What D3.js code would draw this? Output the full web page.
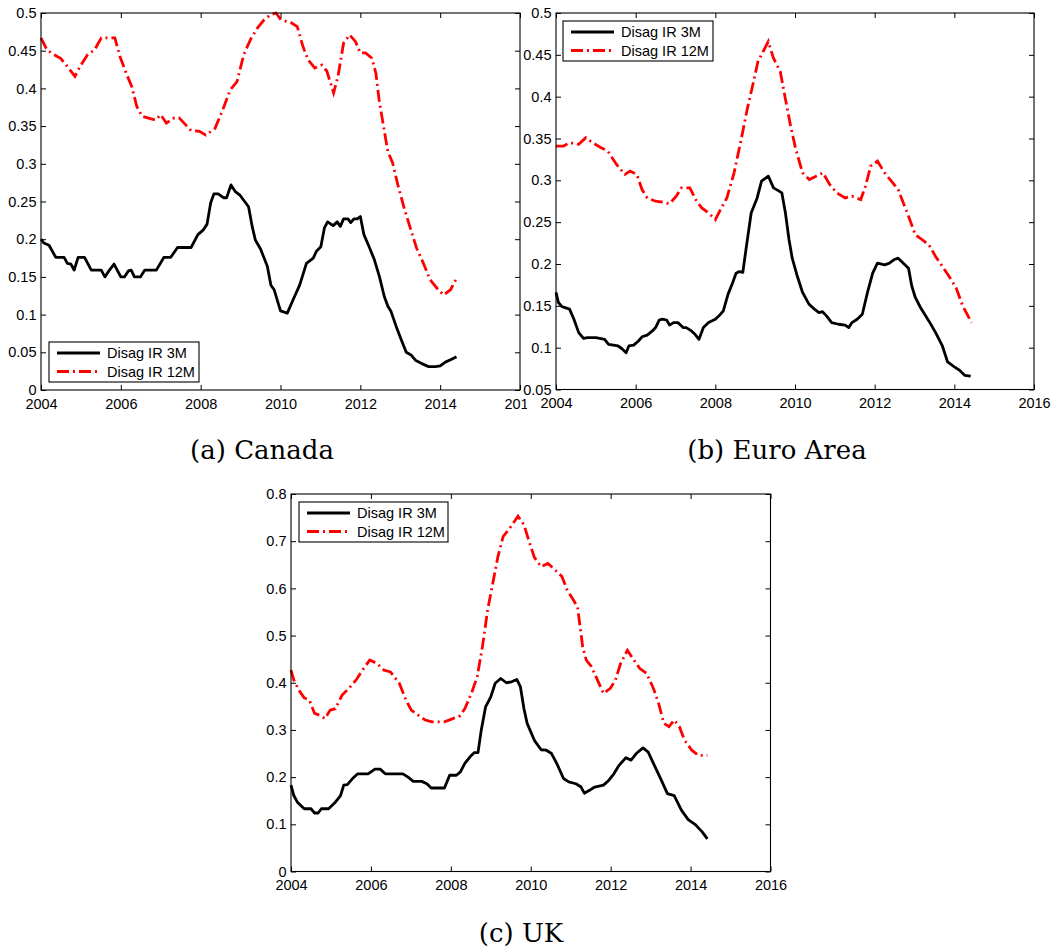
<!DOCTYPE html>
<html><head><meta charset="utf-8">
<script src="https://cdn.jsdelivr.net/npm/d3@7"></script>
<style>
html,body{margin:0;padding:0;background:#fff;}
svg{display:block;}
</style></head>
<body>
<svg id="chart" width="1055" height="948"></svg>
<script>
// ---- Data ----
const yearTicks = [2004, 2006, 2008, 2010, 2012, 2014, 2016];
const seriesNames = ["Disag IR 3M", "Disag IR 12M"];
const captions = ["(a) Canada", "(b) Euro Area", "(c) UK"];

const canadaTicks = [0,0.05,0.1,0.15,0.2,0.25,0.3,0.35,0.4,0.45,0.5];
const euroTicks = [0.05,0.1,0.15,0.2,0.25,0.3,0.35,0.4,0.45,0.5];
const ukTicks = [0,0.1,0.2,0.3,0.4,0.5,0.6,0.7,0.8];

const canada3M = [[2004.0,0.200],[2004.07,0.195],[2004.2,0.192],[2004.37,0.176],[2004.58,0.176],[2004.66,0.168],[2004.75,0.167],[2004.83,0.159],[2004.93,0.176],[2005.09,0.176],[2005.26,0.159],[2005.51,0.159],[2005.6,0.150],[2005.7,0.158],[2005.83,0.167],[2006.0,0.150],[2006.09,0.150],[2006.19,0.158],[2006.26,0.159],[2006.34,0.150],[2006.49,0.150],[2006.6,0.159],[2006.89,0.159],[2007.08,0.176],[2007.25,0.176],[2007.42,0.189],[2007.76,0.189],[2007.93,0.206],[2008.06,0.212],[2008.16,0.220],[2008.25,0.248],[2008.33,0.260],[2008.44,0.260],[2008.57,0.255],[2008.65,0.255],[2008.76,0.272],[2008.87,0.263],[2008.99,0.258],[2009.2,0.243],[2009.29,0.217],[2009.37,0.199],[2009.5,0.187],[2009.67,0.164],[2009.76,0.139],[2009.84,0.133],[2010.0,0.105],[2010.17,0.102],[2010.31,0.119],[2010.48,0.139],[2010.65,0.168],[2010.82,0.175],[2010.9,0.184],[2011.01,0.190],[2011.1,0.215],[2011.18,0.223],[2011.32,0.218],[2011.42,0.223],[2011.5,0.217],[2011.58,0.227],[2011.69,0.227],[2011.76,0.222],[2011.84,0.227],[2011.92,0.227],[2012.0,0.230],[2012.09,0.206],[2012.22,0.190],[2012.35,0.173],[2012.48,0.150],[2012.6,0.124],[2012.69,0.111],[2012.77,0.104],[2012.9,0.084],[2013.03,0.066],[2013.15,0.050],[2013.28,0.046],[2013.39,0.039],[2013.54,0.035],[2013.71,0.031],[2013.88,0.031],[2014.0,0.032],[2014.13,0.037],[2014.26,0.040],[2014.41,0.044]];
const canada12M = [[2004.0,0.467],[2004.15,0.451],[2004.32,0.445],[2004.49,0.440],[2004.66,0.429],[2004.85,0.416],[2005.0,0.431],[2005.17,0.445],[2005.34,0.451],[2005.51,0.467],[2005.85,0.467],[2005.98,0.442],[2006.15,0.418],[2006.27,0.403],[2006.4,0.376],[2006.53,0.363],[2006.87,0.358],[2007.0,0.365],[2007.14,0.354],[2007.34,0.361],[2007.46,0.361],[2007.62,0.352],[2007.76,0.344],[2007.97,0.343],[2008.13,0.338],[2008.36,0.347],[2008.57,0.374],[2008.74,0.398],[2008.91,0.409],[2009.08,0.445],[2009.25,0.465],[2009.42,0.480],[2009.59,0.491],[2009.76,0.498],[2009.89,0.500],[2010.01,0.491],[2010.14,0.489],[2010.27,0.487],[2010.42,0.482],[2010.56,0.456],[2010.69,0.438],[2010.86,0.427],[2011.03,0.431],[2011.16,0.423],[2011.33,0.394],[2011.44,0.416],[2011.58,0.460],[2011.73,0.471],[2011.88,0.462],[2012.0,0.447],[2012.13,0.447],[2012.29,0.440],[2012.39,0.420],[2012.47,0.385],[2012.58,0.350],[2012.69,0.316],[2012.81,0.301],[2012.94,0.272],[2013.11,0.239],[2013.28,0.210],[2013.41,0.188],[2013.58,0.168],[2013.75,0.146],[2013.92,0.135],[2014.09,0.126],[2014.26,0.133],[2014.43,0.150]];

const euro3M = [[2004.0,0.166],[2004.06,0.154],[2004.15,0.149],[2004.34,0.146],[2004.45,0.134],[2004.57,0.118],[2004.69,0.111],[2004.79,0.112],[2005.0,0.112],[2005.22,0.110],[2005.32,0.104],[2005.56,0.102],[2005.65,0.099],[2005.76,0.094],[2005.83,0.102],[2005.95,0.103],[2006.07,0.108],[2006.16,0.113],[2006.29,0.115],[2006.42,0.120],[2006.5,0.124],[2006.59,0.133],[2006.67,0.134],[2006.78,0.133],[2006.85,0.127],[2006.95,0.130],[2007.06,0.130],[2007.19,0.124],[2007.27,0.124],[2007.4,0.120],[2007.49,0.116],[2007.59,0.110],[2007.7,0.124],[2007.83,0.130],[2008.0,0.134],[2008.13,0.140],[2008.2,0.144],[2008.32,0.164],[2008.43,0.177],[2008.52,0.189],[2008.6,0.191],[2008.69,0.190],[2008.78,0.221],[2008.9,0.261],[2009.05,0.279],[2009.16,0.299],[2009.33,0.305],[2009.46,0.291],[2009.57,0.288],[2009.67,0.285],[2009.76,0.261],[2009.85,0.229],[2009.93,0.207],[2010.06,0.185],[2010.19,0.166],[2010.35,0.152],[2010.49,0.146],[2010.6,0.142],[2010.69,0.143],[2010.79,0.138],[2010.92,0.130],[2011.09,0.128],[2011.26,0.127],[2011.35,0.124],[2011.43,0.130],[2011.56,0.134],[2011.69,0.140],[2011.82,0.166],[2011.95,0.189],[2012.07,0.201],[2012.25,0.199],[2012.37,0.201],[2012.48,0.205],[2012.59,0.207],[2012.72,0.201],[2012.85,0.195],[2012.93,0.174],[2013.02,0.160],[2013.15,0.148],[2013.36,0.132],[2013.53,0.118],[2013.7,0.102],[2013.83,0.083],[2014.0,0.077],[2014.13,0.073],[2014.26,0.067],[2014.41,0.066]];
const euro12M = [[2004.0,0.341],[2004.19,0.341],[2004.34,0.345],[2004.57,0.343],[2004.75,0.351],[2004.92,0.345],[2005.13,0.339],[2005.3,0.335],[2005.52,0.319],[2005.73,0.307],[2005.86,0.311],[2006.03,0.307],[2006.16,0.289],[2006.29,0.279],[2006.5,0.275],[2006.67,0.274],[2006.85,0.272],[2007.02,0.281],[2007.15,0.291],[2007.36,0.291],[2007.53,0.275],[2007.66,0.267],[2007.83,0.261],[2008.0,0.253],[2008.13,0.265],[2008.29,0.279],[2008.47,0.309],[2008.65,0.349],[2008.8,0.385],[2008.95,0.416],[2009.07,0.442],[2009.2,0.454],[2009.33,0.466],[2009.46,0.446],[2009.63,0.430],[2009.76,0.397],[2009.89,0.365],[2010.02,0.337],[2010.19,0.309],[2010.36,0.301],[2010.53,0.305],[2010.7,0.309],[2010.87,0.295],[2011.05,0.285],[2011.26,0.279],[2011.43,0.281],[2011.65,0.277],[2011.77,0.293],[2011.9,0.317],[2012.07,0.323],[2012.25,0.309],[2012.42,0.299],[2012.59,0.289],[2012.72,0.273],[2012.85,0.257],[2013.02,0.235],[2013.19,0.229],[2013.36,0.223],[2013.53,0.209],[2013.7,0.197],[2013.87,0.185],[2014.04,0.172],[2014.21,0.150],[2014.43,0.130]];

const uk3M = [[2004.0,0.183],[2004.07,0.161],[2004.16,0.147],[2004.33,0.133],[2004.5,0.133],[2004.59,0.124],[2004.68,0.124],[2004.76,0.133],[2004.94,0.133],[2005.11,0.147],[2005.24,0.161],[2005.32,0.183],[2005.41,0.184],[2005.54,0.197],[2005.67,0.207],[2005.93,0.207],[2006.1,0.217],[2006.23,0.217],[2006.36,0.207],[2006.8,0.207],[2006.93,0.200],[2007.06,0.191],[2007.27,0.191],[2007.4,0.186],[2007.51,0.177],[2007.84,0.177],[2007.97,0.204],[2008.14,0.204],[2008.24,0.211],[2008.35,0.229],[2008.48,0.243],[2008.59,0.252],[2008.68,0.252],[2008.76,0.299],[2008.87,0.349],[2009.0,0.370],[2009.11,0.399],[2009.25,0.409],[2009.39,0.400],[2009.52,0.402],[2009.65,0.407],[2009.74,0.392],[2009.83,0.345],[2009.91,0.314],[2010.09,0.278],[2010.26,0.258],[2010.39,0.257],[2010.52,0.250],[2010.65,0.229],[2010.82,0.197],[2010.95,0.190],[2011.13,0.186],[2011.26,0.179],[2011.34,0.166],[2011.47,0.172],[2011.6,0.179],[2011.82,0.183],[2011.95,0.193],[2012.08,0.207],[2012.21,0.225],[2012.38,0.241],[2012.51,0.236],[2012.64,0.250],[2012.81,0.262],[2012.94,0.253],[2013.07,0.229],[2013.25,0.197],[2013.42,0.165],[2013.59,0.161],[2013.77,0.130],[2013.94,0.110],[2014.11,0.100],[2014.29,0.084],[2014.42,0.069]];
const uk12M = [[2004.0,0.427],[2004.07,0.406],[2004.2,0.384],[2004.33,0.368],[2004.46,0.363],[2004.59,0.335],[2004.72,0.331],[2004.85,0.324],[2004.98,0.342],[2005.11,0.345],[2005.28,0.374],[2005.45,0.388],[2005.63,0.406],[2005.8,0.428],[2005.97,0.448],[2006.15,0.441],[2006.32,0.427],[2006.49,0.423],[2006.71,0.399],[2006.88,0.363],[2007.01,0.342],[2007.19,0.331],[2007.36,0.321],[2007.53,0.317],[2007.84,0.317],[2008.05,0.324],[2008.23,0.330],[2008.35,0.345],[2008.53,0.381],[2008.66,0.413],[2008.79,0.476],[2008.92,0.554],[2009.05,0.611],[2009.18,0.668],[2009.31,0.710],[2009.48,0.728],[2009.68,0.753],[2009.83,0.735],[2009.96,0.699],[2010.09,0.666],[2010.26,0.646],[2010.43,0.653],[2010.61,0.639],[2010.78,0.625],[2010.91,0.597],[2011.04,0.579],[2011.17,0.561],[2011.3,0.476],[2011.39,0.448],[2011.52,0.434],[2011.69,0.402],[2011.82,0.377],[2011.99,0.388],[2012.12,0.406],[2012.25,0.441],[2012.42,0.469],[2012.55,0.452],[2012.73,0.430],[2012.9,0.420],[2013.07,0.388],[2013.2,0.356],[2013.33,0.314],[2013.46,0.307],[2013.59,0.321],[2013.72,0.307],[2013.85,0.278],[2014.03,0.257],[2014.2,0.246],[2014.42,0.246]];

// ---- Drawing ----
const svg = d3.select("#chart");
const defs = svg.append("defs");
defs.append("clipPath").attr("id","clipA").append("rect").attr("x",0).attr("y",0).attr("width",527).attr("height",470);

const FONT = "'Liberation Sans', Arial, Helvetica, sans-serif";
const FS = 14.5;
const fmt = v => String(+v.toFixed(2));

const panels = [
  {box:{l:41,r:520,t:13,b:390}, y:[0,0.5], ticks:canadaTicks, s3:canada3M, s12:canada12M, legend:{x:49,y:342,w:150,h:40}, cap:{x:262,y:459}, clip:"clipA"},
  {box:{l:556,r:1034,t:13,b:389.5}, y:[0.05,0.5], ticks:euroTicks, s3:euro3M, s12:euro12M, legend:{x:563,y:21,w:150,h:40}, cap:{x:777,y:459}},
  {box:{l:291,r:770.5,t:494,b:871.5}, y:[0,0.8], ticks:ukTicks, s3:uk3M, s12:uk12M, legend:{x:299,y:502,w:149,h:40}, cap:{x:521,y:942}}
];

panels.forEach((p,i) => {
  const g = svg.append("g");
  if (p.clip) g.attr("clip-path","url(#"+p.clip+")");
  const x = d3.scaleLinear().domain([2004,2016]).range([p.box.l,p.box.r]);
  const y = d3.scaleLinear().domain(p.y).range([p.box.b,p.box.t]);
  const TL = 5;

  // lines
  const line = d3.line().x(d=>x(d[0])).y(d=>y(d[1]));
  g.append("path").datum(p.s3).attr("d",line).attr("fill","none")
    .attr("stroke","#000").attr("stroke-width",2.8).attr("stroke-linejoin","round");
  g.append("path").datum(p.s12).attr("d",line).attr("fill","none")
    .attr("stroke","#ff0000").attr("stroke-width",2.8).attr("stroke-dasharray","12,4,2,4");

  // axes (inward ticks on all sides)
  const ax = g.append("g").attr("font-family",FONT).attr("font-size",FS);
  const bottom = d3.axisBottom(x).tickValues(yearTicks).tickSize(-TL).tickPadding(8.5).tickFormat(d3.format("d"));
  const top = d3.axisTop(x).tickValues(yearTicks).tickSize(-TL).tickFormat("");
  const left = d3.axisLeft(y).tickValues(p.ticks).tickSize(-TL).tickPadding(4.5).tickFormat(fmt);
  const right = d3.axisRight(y).tickValues(p.ticks).tickSize(-TL).tickFormat("");
  [[bottom,`translate(0,${p.box.b})`],[top,`translate(0,${p.box.t})`],[left,`translate(${p.box.l},0)`],[right,`translate(${p.box.r},0)`]]
    .forEach(([a,tr]) => {
      const gg = ax.append("g").attr("transform",tr).call(a);
      gg.select(".domain").remove();
      gg.selectAll("line").attr("stroke","#000").attr("stroke-width",1);
      gg.selectAll("text").attr("fill","#000").attr("font-family",FONT).attr("font-size",FS);
    });
  ax.append("rect").attr("x",p.box.l).attr("y",p.box.t)
    .attr("width",p.box.r-p.box.l).attr("height",p.box.b-p.box.t)
    .attr("fill","none").attr("stroke","#000").attr("stroke-width",1.1);

  // legend
  const L = p.legend;
  const lg = g.append("g");
  lg.append("rect").attr("x",L.x).attr("y",L.y).attr("width",L.w).attr("height",L.h)
    .attr("fill","#fff").attr("stroke","#000").attr("stroke-width",1.1);
  const rows = [{n:seriesNames[0],c:"#000",dash:null},{n:seriesNames[1],c:"#ff0000",dash:"12,4,2,4"}];
  rows.forEach((r,k) => {
    const yy = L.y + 11 + k*18.5;
    const ln = lg.append("line").attr("x1",L.x+8).attr("x2",L.x+51).attr("y1",yy).attr("y2",yy)
      .attr("stroke",r.c).attr("stroke-width",2.8);
    if (r.dash) ln.attr("stroke-dasharray",r.dash);
    lg.append("text").attr("x",L.x+58).attr("y",yy+5).attr("font-family",FONT).attr("font-size",FS)
      .attr("fill","#000").text(r.n);
  });

  // caption
  svg.append("text").attr("x",p.cap.x).attr("y",p.cap.y).attr("text-anchor","middle")
    .attr("font-family","'DejaVu Serif', 'Liberation Serif', serif").attr("font-size",26)
    .attr("fill","#000").text(captions[i]);
});
</script>
</body></html>
